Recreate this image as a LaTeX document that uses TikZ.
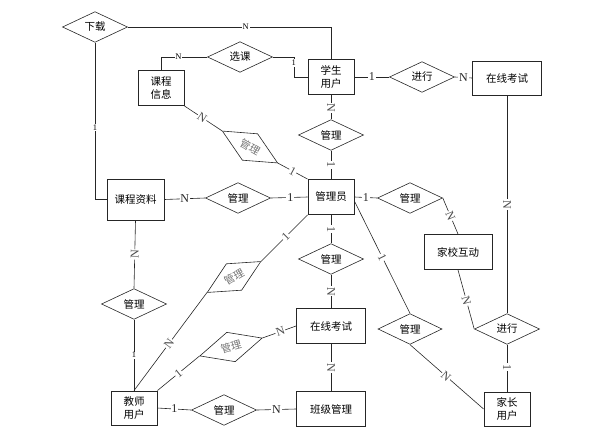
\documentclass[tikz,border=0pt]{standalone}
\usepackage{fontspec}
\setmainfont{Liberation Serif}
\newfontfamily\cjk{Noto Sans CJK SC}
\usetikzlibrary{shapes.geometric}
\tikzset{
  ent/.style={draw=black!85, line width=0.9pt, rectangle, inner sep=0pt, font=\cjk\fontsize{10.5}{13}\selectfont, align=center},
  rel/.style={draw=black!85, line width=0.6pt, diamond, inner sep=0pt, minimum width=65pt, minimum height=30pt, font=\cjk\fontsize{10.5}{13}\selectfont},
  trel/.style={rel, text=black!55},
  conn/.style={draw=black!85, line width=0.6pt},
  lbl/.style={fill=white, inner sep=0.8pt, font=\fontsize{12}{12}\selectfont, text=black!85},
  slbl/.style={fill=white, inner sep=0.8pt, font=\fontsize{8.5}{9}\selectfont},
  rlbl/.style={lbl, sloped, text=black!70},
}
\begin{document}
\begin{tikzpicture}[x=1pt, y=-1pt]
\useasboundingbox (0,0) rectangle (601,441);
% entities
\node[ent, minimum width=46pt, minimum height=35pt] (xs) at (331,77) {学生\\用户};
\node[ent, minimum width=46pt, minimum height=35pt] (kcxx) at (161,88) {课程\\信息};
\node[ent, minimum width=69pt, minimum height=34pt] (zk1) at (507,78) {在线考试};
\node[ent, minimum width=46pt, minimum height=35pt] (gly) at (331,197) {管理员};
\node[ent, minimum width=57pt, minimum height=41pt] (kczl) at (135.5,199.5) {课程资料};
\node[ent, minimum width=68pt, minimum height=35pt] (jxhd) at (458,252) {家校互动};
\node[ent, minimum width=69pt, minimum height=35pt] (zk2) at (331,326) {在线考试};
\node[ent, minimum width=46pt, minimum height=34pt] (jz) at (507,409) {家长\\用户};
\node[ent, minimum width=69pt, minimum height=35pt] (bj) at (331,409) {班级管理};
\node[ent, minimum width=46pt, minimum height=34pt] (js) at (134,408) {教师\\用户};
% relations
\node[rel] (xiazai) at (95,27) {下载};
\node[rel] (xuanke) at (240,57) {选课};
\node[rel] (jx1) at (422,77) {进行};
\node[rel] (gl1) at (331,135) {管理};
\node[trel, rotate=-30, minimum width=64pt] (tg1) at (250,147) {管理};
\node[rel] (gl2) at (238,198) {管理};
\node[rel] (gl3) at (410,198) {管理};
\node[rel] (gl4) at (331,259) {管理};
\node[rel, minimum width=64pt] (gl5) at (410,329) {管理};
\node[rel] (jx2) at (507,329) {进行};
\node[rel] (gl6) at (224,410) {管理};
\node[rel] (gl7) at (134,304) {管理};
\node[trel, rotate=30, minimum width=62pt] (tg2) at (234,277) {管理};
\node[trel, rotate=16, minimum width=65pt] (tg3) at (231,347) {管理};
% connectors
\draw[conn] (xiazai.east) -| node[slbl, pos=0.29] {N} (xs.north);
\draw[conn] (xiazai.south) |- node[slbl, pos=0.27] {1} (kczl.west);
\draw[conn] (xuanke.west) -| node[slbl, pos=0.31] {N} (kcxx.north);
\draw[conn] (xuanke.east) -- ++(21,0) |- node[slbl, pos=0.15] {1} (xs.west);
\draw[conn] (xs.east) -- node[lbl] {1} (jx1.west);
\draw[conn] (jx1.east) -- node[lbl] {N} (zk1.west);
\draw[conn] (xs.south) -- node[rlbl, pos=0.54] {N} (gl1.north);
\draw[conn] (gl1.south) -- node[rlbl] {1} (gly.north);
\draw[conn] (kcxx.south east) -- node[rlbl, pos=0.47] {N} (tg1.west);
\draw[conn] (tg1.east) -- node[rlbl] {1} (gly.north west);
\draw[conn] (kczl.east) -- node[lbl] {N} (gl2.west);
\draw[conn] (gl2.east) -- node[lbl, pos=0.53] {1} (gly.west);
\draw[conn] (gly.east) -- node[lbl] {1} (gl3.west);
\draw[conn] (gl3.east) -- node[rlbl] {N} (jxhd.north);
\draw[conn] (zk1.south) -- node[rlbl] {N} (jx2.north);
\draw[conn] (jxhd.south) -- node[rlbl, pos=0.52] {N} (jx2.west);
\draw[conn] (jx2.south) -- node[rlbl, pos=0.48] {1} (jz.north);
\draw[conn] (gly.-10) -- node[rlbl] {1} (gl5.north);
\draw[conn] (gl5.south) -- node[rlbl, pos=0.49] {N} (jz.west);
\draw[conn] (gly.south) -- node[rlbl] {1} (gl4.north);
\draw[conn] (gl4.south) -- node[rlbl] {N} (zk2.north);
\draw[conn] (zk2.south) -- node[rlbl] {N} (bj.north);
\draw[conn] (kczl.south) -- node[rlbl] {N} (gl7.north);
\draw[conn] (gl7.south) -- node[slbl] {1} (js.north);
\draw[conn] (js.north) -- node[rlbl, pos=0.48] {N} (tg2.west);
\draw[conn] (tg2.east) -- node[rlbl, pos=0.53] {1} (gly.south west);
\draw[conn] (js.north east) -- node[rlbl] {1} (tg3.west);
\draw[conn] (tg3.east) -- node[rlbl, pos=0.53] {N} (zk2.west);
\draw[conn] (js.east) -- node[lbl] {1} (gl6.west);
\draw[conn] (gl6.east) -- node[lbl] {N} (bj.west);
\end{tikzpicture}
\end{document}
